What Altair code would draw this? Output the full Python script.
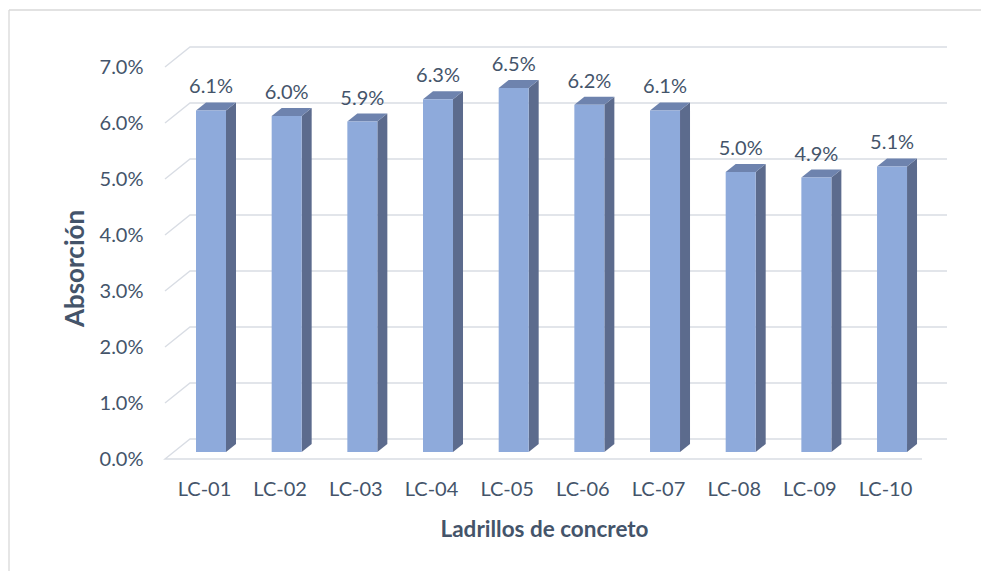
import altair as alt
import pandas as pd

# Absorption per concrete brick sample (percent)
categories = ["LC-01", "LC-02", "LC-03", "LC-04", "LC-05",
              "LC-06", "LC-07", "LC-08", "LC-09", "LC-10"]
absorcion = [6.1, 6.0, 5.9, 6.3, 6.5, 6.2, 6.1, 5.0, 4.9, 5.1]
y_ticks = [0, 1, 2, 3, 4, 5, 6, 7]

# --- 3D look parameters (in scale units) ---
PX_X = 75.67          # pixels per category step
PX_Y = 56.0           # pixels per 1 %
HW = 15 / PX_X        # half width of the bar front face
BDX = 10 / PX_X       # bar depth, horizontal
BDY = 8 / PX_Y        # bar depth, vertical
BASE = 7 / PX_Y       # bar sits slightly behind the floor front edge
GDX = 25 / PX_X       # wall depth, horizontal
GDY = 20 / PX_Y       # wall depth, vertical
X_MIN, X_MAX = -46 / PX_X, (782 - 46) / PX_X
Y_MAX = 412 / PX_Y
FLOOR_END = X_MAX - GDX

W, H = 782, 412
TXT = "#44546A"
FONT = "Lato"

bars = pd.DataFrame({"cat": categories, "val": absorcion})
bars["i"] = range(len(bars))
bars["x0"] = bars["i"] - HW
bars["x1"] = bars["i"] + HW
bars["y0"] = BASE
bars["y1"] = BASE + bars["val"]
bars["ytop"] = bars["y1"] + BDY
bars["label"] = bars["val"].map(lambda v: f"{v:.1f}%")

# side faces: two vertical edges joined by slanted top/bottom
side_rows = []
for _, r in bars.iterrows():
    side_rows.append({"cat": r["cat"], "x": r["x1"], "top": r["y1"], "bot": r["y0"]})
    side_rows.append({"cat": r["cat"], "x": r["x1"] + BDX, "top": r["y1"] + BDY, "bot": r["y0"] + BDY})
side = pd.DataFrame(side_rows)

# top faces: two horizontal edges joined by slanted sides
top_rows = []
for _, r in bars.iterrows():
    top_rows.append({"cat": r["cat"], "y": r["y1"], "xa": r["x0"], "xb": r["x1"]})
    top_rows.append({"cat": r["cat"], "y": r["y1"] + BDY, "xa": r["x0"] + BDX, "xb": r["x1"] + BDX})
top = pd.DataFrame(top_rows)

# wall gridlines and floor outline
grid_rows = []
for v in y_ticks:
    pts = []
    if v == 0:
        pts.append((FLOOR_END, 0))
    pts += [(X_MIN, v), (X_MIN + GDX, v + GDY), (X_MAX, v + GDY)]
    for k, (gx, gy) in enumerate(pts):
        grid_rows.append({"g": v, "k": k, "x": gx, "y": gy})
grid = pd.DataFrame(grid_rows)

xs = alt.Scale(domain=[X_MIN, X_MAX], nice=False, zero=False)
ys = alt.Scale(domain=[0, Y_MAX], nice=False, zero=False)

label_expr = "[" + ",".join(f"'{c}'" for c in categories) + "][datum.value]"

grid_layer = alt.Chart(grid).mark_line(color="#D9DDE4", strokeWidth=1.4).encode(
    x=alt.X("x:Q", scale=xs,
            axis=alt.Axis(values=list(range(len(categories))), labelExpr=label_expr,
                          domain=False, ticks=False, grid=False,
                          labelFontSize=20, labelColor=TXT, labelFont=FONT,
                          labelPadding=20, labelOffset=-7,
                          title="Ladrillos de concreto", titleFontSize=22.5,
                          titleFont=FONT, titleFontWeight="bold", titleColor=TXT,
                          titleX=379, titleY=70, titleBaseline="middle")),
    y=alt.Y("y:Q", scale=ys,
            axis=alt.Axis(values=y_ticks,
                          labelExpr="format(datum.value, '.1f') + '%'",
                          domain=False, ticks=False, grid=False,
                          labelFontSize=20, labelColor=TXT, labelFont=FONT,
                          labelPadding=22,
                          title="Absorción", titleFontSize=26, titleFont=FONT,
                          titleFontWeight="bold", titleColor=TXT,
                          titleX=-90, titleY=221, titleAngle=-90,
                          titleAlign="center", titleBaseline="middle")),
    detail="g:N",
    order="k:Q",
)

side_layer = alt.Chart(side).mark_area(color="#5C6B8D", opacity=1).encode(
    x=alt.X("x:Q", scale=xs), y=alt.Y("top:Q", scale=ys), y2="bot:Q", detail="cat:N"
)

top_layer = alt.Chart(top).mark_area(orient="horizontal", color="#6E83AE", opacity=1).encode(
    y=alt.Y("y:Q", scale=ys), x=alt.X("xa:Q", scale=xs), x2="xb:Q", detail="cat:N"
)

front_layer = alt.Chart(bars).mark_rect(color="#8EAADB").encode(
    x=alt.X("x0:Q", scale=xs), x2="x1:Q",
    y=alt.Y("y0:Q", scale=ys), y2="y1:Q",
)

text_layer = alt.Chart(bars).mark_text(
    fontSize=20, font=FONT, color=TXT, baseline="middle", dy=-15
).encode(
    x=alt.X("i:Q", scale=xs), y=alt.Y("ytop:Q", scale=ys), text="label:N"
)

# outer chart frame: left and top edges (the rest runs off the page)
frame_left = alt.Chart(pd.DataFrame({"a": [0]})).mark_rule(
    color="#D9D9D9", strokeWidth=1.3
).encode(x=alt.value(-156), y=alt.value(-37), y2=alt.value(600))
frame_top = alt.Chart(pd.DataFrame({"a": [0]})).mark_rule(
    color="#D9D9D9", strokeWidth=1.3
).encode(y=alt.value(-37), x=alt.value(-156), x2=alt.value(900))

chart = alt.layer(
    frame_left, frame_top, grid_layer, side_layer, top_layer, front_layer, text_layer
).properties(
    width=W, height=H,
    autosize=alt.AutoSizeParams(type="none"),
    padding={"left": 165, "top": 47, "right": 34, "bottom": 112},
    background="white",
).configure_view(stroke=None)

chart.save("out.html", embed_options={"renderer": "svg", "actions": False})
